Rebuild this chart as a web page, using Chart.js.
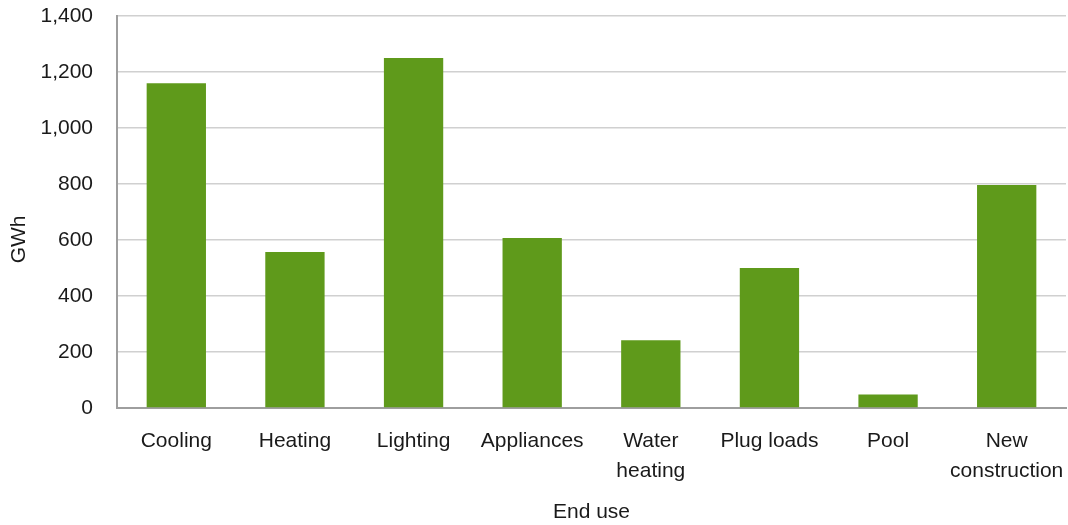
<!DOCTYPE html>
<html>
<head>
<meta charset="utf-8">
<script src="https://cdn.jsdelivr.net/npm/chart.js@4/dist/chart.umd.min.js"></script>
<style>
  html, body { margin: 0; padding: 0; background: #fff; }
  #wrap { width: 1068px; height: 525px; }
</style>
</head>
<body>
<div id="wrap"><canvas id="c" width="1068" height="525"></canvas></div>
<script>
// End-use categories (multi-line where the label wraps)
const categories = [
  'Cooling',
  'Heating',
  'Lighting',
  'Appliances',
  ['Water', 'heating'],
  'Plug loads',
  'Pool',
  ['New', 'construction']
];
// Energy by end use, GWh
const gwhValues = [1160, 557, 1250, 607, 242, 500, 48, 796];
// Value axis ticks
const yTicks = [0, 200, 400, 600, 800, 1000, 1200, 1400];

const FONT = "'Liberation Sans', Arial, sans-serif";
const TEXT = '#1a1a1a';

// Rotated y-axis title, placed a little below the plot's vertical centre
const yTitlePlugin = {
  id: 'yTitle',
  afterDraw(chart) {
    const { ctx, chartArea } = chart;
    ctx.save();
    ctx.font = '21px ' + FONT;
    ctx.fillStyle = TEXT;
    ctx.textAlign = 'center';
    ctx.textBaseline = 'middle';
    ctx.translate(19, chartArea.top + (chartArea.bottom - chartArea.top) * 0.57);
    ctx.rotate(-Math.PI / 2);
    ctx.fillText('GWh', 0, 0);
    ctx.restore();
  }
};

new Chart(document.getElementById('c'), {
  type: 'bar',
  data: {
    labels: categories,
    datasets: [{
      label: 'GWh',
      data: gwhValues,
      backgroundColor: '#5F9A1B',
      borderWidth: 0,
      barPercentage: 0.5,
      categoryPercentage: 1.0
    }]
  },
  options: {
    responsive: false,
    animation: false,
    layout: { padding: { left: 0, right: 2, top: 16, bottom: 0 } },
    plugins: {
      legend: { display: false },
      tooltip: { enabled: false }
    },
    scales: {
      x: {
        grid: { display: false, drawTicks: false },
        border: { display: true, color: '#9e9e9e', width: 2 },
        ticks: {
          color: TEXT,
          font: { family: FONT, size: 21, lineHeight: 1.43 },
          padding: 18,
          maxRotation: 0,
          autoSkip: false
        },
        title: {
          display: true,
          text: 'End use',
          color: TEXT,
          font: { family: FONT, size: 21 },
          padding: { top: 6, bottom: 0 }
        },
        afterFit(scale) {
          scale.height = 117;
          scale.paddingLeft = 0;
          scale.paddingRight = 0;
        }
      },
      y: {
        min: 0,
        max: 1400,
        afterBuildTicks(scale) {
          scale.ticks = yTicks.map(v => ({ value: v }));
        },
        grid: { color: '#d0d0d0', lineWidth: 1.5, drawTicks: false },
        border: { display: true, color: '#9e9e9e', width: 2 },
        ticks: {
          color: TEXT,
          font: { family: FONT, size: 21 },
          padding: 24,
          callback: v => v.toLocaleString('en-US')
        },
        afterFit(scale) {
          scale.width = 117;
          scale.paddingTop = 0;
          scale.paddingBottom = 0;
        }
      }
    }
  },
  plugins: [yTitlePlugin]
});
</script>
</body>
</html>
